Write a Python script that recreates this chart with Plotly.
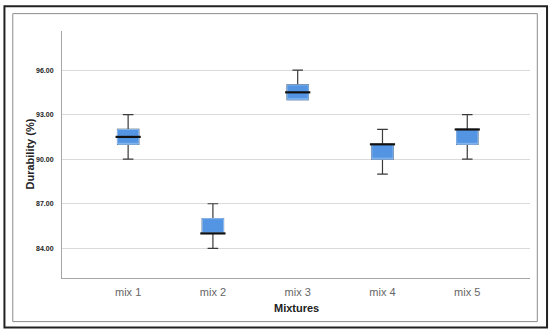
import plotly.graph_objects as go

categories = ["mix 1", "mix 2", "mix 3", "mix 4", "mix 5"]
lower_whisker = [90, 84, 94, 89, 90]
q1 = [91, 85, 94, 90, 91]
median = [91.5, 85, 94.5, 91, 92]
q3 = [92, 86, 95, 91, 92]
upper_whisker = [93, 87, 96, 92, 93]
y_ticks = [84, 87, 90, 93, 96]
y_tick_labels = ["84.00", "87.00", "90.00", "93.00", "96.00"]

fill = "#5495e3"
edge = "#8ab9ef"

fig = go.Figure()
# whiskers and caps
fig.add_trace(go.Box(
    x=categories, q1=q1, median=median, q3=q3,
    lowerfence=lower_whisker, upperfence=upper_whisker,
    fillcolor=fill, line=dict(color="#3a3a3a", width=1.2),
    width=0.25, whiskerwidth=0.5, boxpoints=False, hoverinfo="skip",
    showlegend=False,
))
# box body on top (hides dark outline)
fig.add_trace(go.Box(
    x=categories, q1=q1, median=q1, q3=q3,
    lowerfence=q1, upperfence=q3,
    fillcolor=fill, line=dict(color=edge, width=1),
    width=0.25, whiskerwidth=0, boxpoints=False, hoverinfo="skip",
    showlegend=False,
))
# median lines
fig.add_trace(go.Scatter(
    x=categories, y=median, mode="markers",
    marker=dict(symbol="line-ew", size=18, line=dict(color="#111111", width=2.2)),
    hoverinfo="skip", showlegend=False,
))

fig.update_layout(
    width=550, height=333,
    margin=dict(l=62, r=20, t=31, b=55, autoexpand=False),
    paper_bgcolor="white", plot_bgcolor="white",
    boxmode="overlay",
    font=dict(family="Liberation Sans, Arial, sans-serif"),
    xaxis=dict(
        type="category", range=[-0.78, 4.74],
        showgrid=False, showline=True, linecolor="#a6a6a6", linewidth=1,
        ticks="", ticklabelstandoff=4, automargin=False,
        tickfont=dict(size=11, color="#666666"),
        zeroline=False,
    ),
    yaxis=dict(
        range=[82, 98.63], tickvals=y_ticks,
        ticktext=["<b>" + t + "</b>" for t in y_tick_labels],
        showgrid=True, gridcolor="#dadada", gridwidth=1.3,
        showline=True, linecolor="#a6a6a6", linewidth=1,
        ticks="", ticklabelstandoff=6, automargin=False,
        tickfont=dict(size=7, color="#222222", family="Liberation Sans, Arial, sans-serif"),
        zeroline=False,
    ),
    annotations=[
        dict(text="<b>Durability (%)</b>", xref="paper", yref="paper",
             x=-0.0705, y=0.5, textangle=-90, showarrow=False,
             font=dict(size=11, color="#222222"), xanchor="center", yanchor="middle"),
        dict(text="<b>Mixtures</b>", xref="paper", yref="paper",
             x=0.5, y=-0.121, showarrow=False,
             font=dict(size=11, color="#222222"), xanchor="center", yanchor="middle"),
    ],
    shapes=[
        dict(type="rect", xref="paper", yref="paper",
             x0=-0.123, x1=1.0364, y0=-0.2007, y1=1.0998,
             line=dict(color="#222222", width=2)),
        dict(type="rect", xref="paper", yref="paper",
             x0=-0.1052, x1=1.0156, y0=-0.1765, y1=1.0703,
             line=dict(color="#8c8c8c", width=1)),
    ],
)

fig.write_html("out.html", config={"displayModeBar": False},
               post_script="document.body.style.margin='0';")
